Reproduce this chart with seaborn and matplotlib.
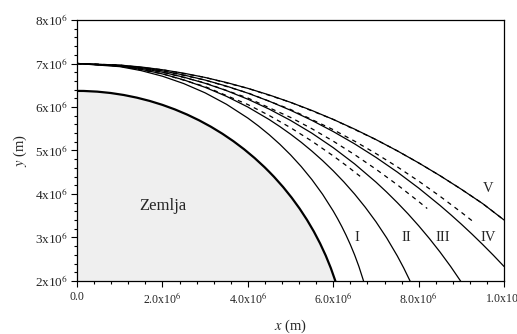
import numpy as np
import pandas as pd
import seaborn as sns
import matplotlib.pyplot as plt
from matplotlib.patches import Circle
from matplotlib.ticker import MultipleLocator

# all distances in units of 1e6 m
earth_radius = 6.37

# solid curves (I..V)
x_I = [0, 1, 1.5, 2, 2.5, 3, 3.5, 4, 4.25, 4.5, 4.75, 5, 5.25, 5.5, 5.75, 6, 6.1, 6.2, 6.3, 6.4, 6.5, 6.6, 6.7, 6.75]
y_I = [7.0, 6.928, 6.837, 6.708, 6.538, 6.325, 6.062, 5.745, 5.562, 5.362, 5.142, 4.899, 4.630, 4.330, 3.992,
       3.606, 3.434, 3.250, 3.051, 2.835, 2.598, 2.332, 2.027, 1.854]

x_II = [0, 1, 1.5, 2, 2.5, 3, 3.5, 4, 4.5, 4.75, 5, 5.25, 5.5, 5.75, 6, 6.25, 6.5, 6.75, 7, 7.25, 7.5, 7.65, 7.8, 7.9]
y_II = [7.0, 6.941, 6.866, 6.761, 6.623, 6.452, 6.245, 5.999, 5.711, 5.549, 5.375, 5.188, 4.985, 4.767, 4.531,
        4.275, 3.997, 3.693, 3.360, 2.990, 2.574, 2.297, 1.995, 1.775]

x_III = [0, 1, 1.5, 2, 2.5, 3, 3.5, 4, 4.5, 5, 5.5, 6, 6.5, 7, 7.25, 7.5, 7.75, 8, 8.25, 8.5, 8.75, 9]
y_III = [7.0, 6.950, 6.888, 6.800, 6.686, 6.545, 6.377, 6.179, 5.951, 5.691, 5.397, 5.064, 4.691, 4.272, 4.043,
         3.800, 3.543, 3.268, 2.976, 2.664, 2.330, 1.970]

x_IV = [0, 1, 1.5, 2, 2.5, 3, 3.5, 4, 4.5, 5, 5.5, 6, 6.5, 7, 7.5, 8, 8.5, 8.75, 9, 9.25, 9.5, 9.75, 10]
y_IV = [7.0, 6.958, 6.905, 6.831, 6.736, 6.619, 6.480, 6.318, 6.133, 5.925, 5.692, 5.435, 5.152, 4.841, 4.503,
        4.135, 3.736, 3.524, 3.304, 3.075, 2.836, 2.589, 2.331]

x_V = [0, 1, 1.5, 2, 2.5, 3, 3.5, 4, 4.5, 5, 5.5, 6, 6.5, 7, 7.5, 8, 8.5, 9, 9.5, 10]
y_V = [7.0, 6.964, 6.920, 6.857, 6.777, 6.679, 6.563, 6.429, 6.277, 6.107, 5.920, 5.714, 5.491, 5.25, 4.991,
       4.714, 4.420, 4.107, 3.777, 3.400]

# dashed curves
x_d1 = [0, 1, 2, 3, 4, 4.5, 5, 5.5, 6, 6.33, 6.67]
y_d1 = [7.0, 6.941, 6.764, 6.469, 6.056, 5.805, 5.524, 5.214, 4.875, 4.635, 4.374]

x_d2 = [0, 1, 2, 3, 4, 5, 5.5, 6, 6.5, 7, 7.5, 8, 8.2]
y_d2 = [7.0, 6.950, 6.802, 6.554, 6.206, 5.760, 5.500, 5.214, 4.904, 4.569, 4.210, 3.825, 3.665]

x_d3 = [0, 1, 2, 3, 4, 5, 6, 6.5, 7, 7.5, 8, 8.5, 9, 9.25]
y_d3 = [7.0, 6.958, 6.831, 6.620, 6.324, 5.943, 5.478, 5.214, 4.929, 4.623, 4.295, 3.946, 3.577, 3.384]

x_d4 = [0, 1, 2, 3, 4, 5, 6, 7, 7.5, 8, 8.5, 9, 9.5, 10]
y_d4 = [7.0, 6.964, 6.857, 6.679, 6.429, 6.107, 5.714, 5.25, 4.991, 4.714, 4.420, 4.107, 3.777, 3.400]

curve_names = ['I', 'II', 'III', 'IV', 'V']
label_x = [6.56, 7.72, 8.57, 9.63, 9.63]
label_y = [2.99, 2.99, 2.99, 2.99, 4.12]

xtick_vals = [0, 2, 4, 6, 8, 10]
xtick_labels = ['0.0', '2.0x10$^6$', '4.0x10$^6$', '6.0x10$^6$', '8.0x10$^6$', '1.0x10$^7$']
ytick_vals = [2, 3, 4, 5, 6, 7, 8]
ytick_labels = ['%dx10$^6$' % v for v in ytick_vals]


def draw_curve(ax, xs, ys, dashed=False):
    df = pd.DataFrame({'x': xs, 'y': ys})
    if dashed:
        sns.lineplot(data=df, x='x', y='y', color='black', lw=0.9, sort=False,
                     estimator=None, linestyle=(0, (3.5, 3.5)), ax=ax)
    else:
        sns.lineplot(data=df, x='x', y='y', color='black', lw=0.9, sort=False,
                     estimator=None, ax=ax)


sns.set_style('ticks')
plt.rcParams['font.family'] = 'Liberation Serif'
plt.rcParams['mathtext.fontset'] = 'stix'

fig = plt.figure(figsize=(5.17, 3.34), dpi=100)
ax = fig.add_axes([0.149, 0.159, 0.826, 0.781])

# the earth
earth = Circle((0, 0), earth_radius, facecolor='#efefef', edgecolor='black', lw=1.6, zorder=1)
ax.add_patch(earth)

for xs, ys in [(x_I, y_I), (x_II, y_II), (x_III, y_III), (x_IV, y_IV), (x_V, y_V)]:
    draw_curve(ax, xs, ys)
for xs, ys in [(x_d1, y_d1), (x_d2, y_d2), (x_d3, y_d3), (x_d4, y_d4)]:
    draw_curve(ax, xs, ys, dashed=True)

for name, lx, ly in zip(curve_names, label_x, label_y):
    ax.text(lx, ly, name, fontsize=10.5, ha='center', va='center')
ax.text(2.01, 3.73, 'Zemlja', fontsize=12, ha='center', va='center')

ax.set_xlim(0, 10)
ax.set_ylim(2, 8)
ax.set_xticks(xtick_vals)
ax.set_xticklabels(xtick_labels, fontsize=8.5)
ax.set_yticks(ytick_vals)
ax.set_yticklabels(ytick_labels, fontsize=9.5)
ax.xaxis.set_minor_locator(MultipleLocator(0.4))
ax.yaxis.set_minor_locator(MultipleLocator(0.2))
ax.tick_params(which='major', direction='out', length=4.5, width=0.8, color='black')
ax.tick_params(which='minor', direction='out', length=2.5, width=0.8, color='black')
ax.tick_params(axis='x', which='major', pad=3)
ax.tick_params(axis='y', which='major', pad=2)
for sp in ax.spines.values():
    sp.set_color('black')
    sp.set_linewidth(0.9)

ax.set_xlabel('$x$ (m)', fontsize=10.5, labelpad=8)
ax.set_ylabel('$y$ (m)', fontsize=10.5, labelpad=4)

fig.savefig('out.png', dpi=100)
